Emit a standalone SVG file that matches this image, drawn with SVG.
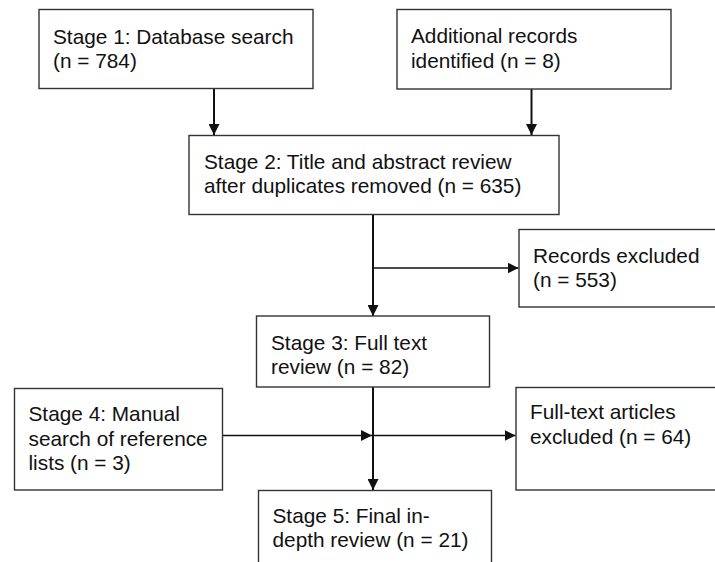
<svg xmlns="http://www.w3.org/2000/svg" width="715" height="562" viewBox="0 0 715 562">
<style>
  .box { fill: #ffffff; stroke: #333333; stroke-width: 1.4; }
  .lbl { font-family: "Liberation Sans", Arial, sans-serif; font-size: 20.8px; fill: #111111; }
  .v { stroke: #111111; stroke-width: 2; fill: none; }
  .h { stroke: #111111; stroke-width: 1.5; fill: none; }
</style>
<defs>
  <marker id="arr" markerUnits="userSpaceOnUse" markerWidth="11" markerHeight="11" viewBox="0 0 10 10" refX="10" refY="5" orient="auto">
    <path d="M0,0 L10,5 L0,10 Z" fill="#111111"/>
  </marker>
</defs>
<rect width="715" height="562" fill="#ffffff"/>

<g id="connectors">
  <line class="v" x1="214" y1="88.5" x2="214" y2="135" marker-end="url(#arr)"/>
  <line class="v" x1="531.5" y1="89" x2="531.5" y2="135" marker-end="url(#arr)"/>
  <line class="v" x1="373" y1="214.5" x2="373" y2="316" marker-end="url(#arr)"/>
  <line class="h" x1="373" y1="268" x2="518.5" y2="268" marker-end="url(#arr)"/>
  <line class="h" x1="222.5" y1="435.5" x2="372" y2="435.5" marker-end="url(#arr)"/>
  <line class="v" x1="373" y1="387" x2="373" y2="490" marker-end="url(#arr)"/>
  <line class="h" x1="373" y1="435.5" x2="515.5" y2="435.5" marker-end="url(#arr)"/>
</g>

<g id="stage1">
  <rect class="box" x="39" y="9.5" width="274" height="79"/>
  <text class="lbl" x="53" y="43.5">Stage 1: Database search</text>
  <text class="lbl" x="53" y="68">(n = 784)</text>
</g>

<g id="additional">
  <rect class="box" x="397" y="9.5" width="274" height="79.5"/>
  <text class="lbl" x="411" y="42.5">Additional records</text>
  <text class="lbl" x="411" y="67.5">identified (n = 8)</text>
</g>

<g id="stage2">
  <rect class="box" x="189" y="135.5" width="370" height="79"/>
  <text class="lbl" x="204" y="168.5">Stage 2: Title and abstract review</text>
  <text class="lbl" x="204" y="193">after duplicates removed (n = 635)</text>
</g>

<g id="records-excluded">
  <rect class="box" x="519" y="229.5" width="210" height="77.5"/>
  <text class="lbl" x="533" y="262.5">Records excluded</text>
  <text class="lbl" x="533" y="287">(n = 553)</text>
</g>

<g id="stage3">
  <rect class="box" x="256.5" y="316" width="233" height="71"/>
  <text class="lbl" x="271" y="350">Stage 3: Full text</text>
  <text class="lbl" x="271" y="373.5">review (n = 82)</text>
</g>

<g id="stage4">
  <rect class="box" x="14.5" y="388.5" width="208" height="101.5"/>
  <text class="lbl" x="28.5" y="420.5">Stage 4: Manual</text>
  <text class="lbl" x="28.5" y="445.5">search of reference</text>
  <text class="lbl" x="28.5" y="470">lists (n = 3)</text>
</g>

<g id="fulltext-excluded">
  <rect class="box" x="516" y="387.5" width="210" height="102.5"/>
  <text class="lbl" x="530" y="419">Full-text articles</text>
  <text class="lbl" x="530" y="443.5">excluded (n = 64)</text>
</g>

<g id="stage5">
  <rect class="box" x="258.5" y="490.5" width="233" height="90"/>
  <text class="lbl" x="272.5" y="523">Stage 5: Final in-</text>
  <text class="lbl" x="272.5" y="546.5">depth review (n = 21)</text>
</g>
</svg>
